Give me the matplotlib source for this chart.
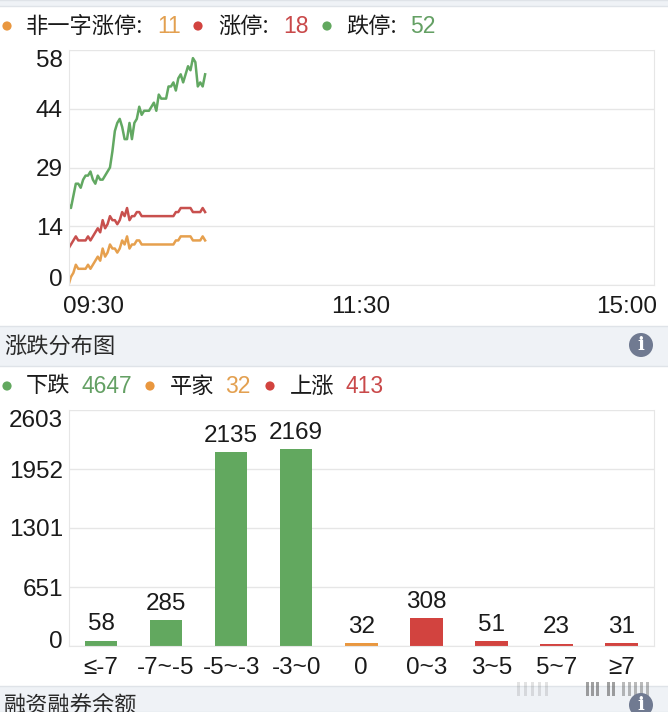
import matplotlib
matplotlib.use("Agg")
import matplotlib.pyplot as plt
from matplotlib.patches import Rectangle, Circle
from matplotlib.transforms import ScaledTranslation

W, H = 668, 712
CJK = ['Noto Sans CJK SC', 'DejaVu Sans']
LAT = ['Liberation Sans', 'DejaVu Sans']
GREEN, RED, ORANGE = '#62a85f', '#d2433f', '#e9973f'
LINE_RED = '#c8504e'; LINE_ORANGE = '#e6a04e'; LINE_GREEN = '#62a862'
GRID = '#e6e6e6'; BAND = '#eff2f6'; BORDER = '#dfe3e8'; INK = '#1a1a1a'

# line chart
zt_free = [0,2,3,5,4,4,4,4,5,4,5,6,7,6,9,7,8,10,9,9,8,9,11,10,12,9,10,10,11,11,
           10,10,10,10,10,10,10,10,10,10,10,10,10,10,11,11,12,12,12,12,12,11,11,11,11,12,11]
zt = [9,10,11,12,11,11,11,11,12,11,12,13,14,13,16,14,15,17,16,16,15,16,18,17,19,16,17,17,18,18,
      17,17,17,17,17,17,17,17,17,17,17,17,17,17,18,18,19,19,19,19,19,18,18,18,18,19,18]
dt = [20,19,22,25,25,24,26,27,27,28,26,25,27,26,26,27,28,29,33,38,40,41,39,36,36,40,36,40,41,44,
      42,43,43,43,44,45,43,47,46,46,46,49,49,50,48,51,52,50,52,54,53,56,55,49,50,49,52]
line_yticks = [0, 14.5, 29, 43.5, 58]
line_ylabels = ['0', '14', '29', '44', '58']
line_xticks = [0, 120, 240]
line_xlabels = ['09:30', '11:30', '15:00']

# bar chart
bar_cats = ['≤-7', '-7~-5', '-5~-3', '-3~0', '0', '0~3', '3~5', '5~7', '≥7']
bar_vals = [58, 285, 2135, 2169, 32, 308, 51, 23, 31]
bar_cols = [GREEN]*4 + [ORANGE] + [RED]*4
bar_yticks = [0, 650.75, 1301.5, 1952.25, 2603]
bar_ylabels = ['0', '651', '1301', '1952', '2603']

fig = plt.figure(figsize=(W/100, H/100), dpi=100, facecolor='white')

def px_axes(l, t, r, b, **kw):
    return fig.add_axes([l/W, 1-b/H, (r-l)/W, (b-t)/H], **kw)

def shift(lab, dx=0, dy=0):
    lab.set_transform(lab.get_transform() + ScaledTranslation(dx/100, dy/100, fig.dpi_scale_trans))

bg = px_axes(0, 0, W, H)
bg.set_xlim(0, W); bg.set_ylim(H, 0); bg.axis('off')
for y0, y1 in [(0, 6), (326, 366), (686, 712)]:
    bg.add_patch(Rectangle((0, y0), W, y1-y0, fc=BAND, ec='none'))
    bg.plot([0, W], [y1, y1], color=BORDER, lw=1)
    bg.plot([0, W], [y0, y0], color=BORDER, lw=1)

def T(x, y, s, color=INK, fam=CJK, size=16, **kw):
    bg.text(x, y, s, color=color, family=fam, fontsize=size, va='center', **kw)

def dot(x, y, c):
    bg.add_patch(Circle((x, y), 4.6, fc=c, ec='none'))

dot(7, 26, ORANGE); T(26, 26, '非一字涨停:'); T(157, 26.5, '11', '#e3a050', LAT, 16.5)
dot(198, 26, RED);  T(218, 26, '涨停:');      T(283, 26.5, '18', '#c9494a', LAT, 16.5)
dot(327, 26, GREEN); T(346, 26, '跌停:');     T(410, 26.5, '52', '#64a064', LAT, 16.5)

T(4, 346, '涨跌分布图', '#2a2a2a')
dot(7, 386, GREEN); T(26, 386, '下跌'); T(81, 386.5, '4647', '#64a064', LAT, 16.5)
dot(150, 386, ORANGE); T(170, 386, '平家'); T(225, 386.5, '32', '#e3a050', LAT, 16.5)
dot(270, 386, RED); T(290, 386, '上涨'); T(346, 386.5, '413', '#c9494a', LAT, 16.5)
T(4, 705, '融资融券余额', '#2a2a2a')

for yc in (345, 705):
    bg.add_patch(Circle((641, yc), 12, fc='#707a91', ec='none', zorder=3))
    bg.text(641, yc, 'i', color='white', family=['DejaVu Serif'], fontsize=13,
            fontweight='bold', ha='center', va='center', zorder=4)

# blurred watermark smear at the lower right
for xs, alpha in [(range(517, 548, 7), 0.16), (range(586, 600, 5), 0.55),
                  (range(607, 614, 5), 0.55), (range(622, 652, 6), 0.4)]:
    for xp in xs:
        bg.add_patch(Rectangle((xp, 682), 3, 14, fc='#555555', ec='none', alpha=alpha, zorder=2))

# ---- line chart
ax = px_axes(68.5, 50, 654, 285)
ax.patch.set_alpha(0)
ax.set_xlim(0, 240); ax.set_ylim(0, 58)
x = list(range(len(dt)))
ax.plot(x, zt_free, color=LINE_ORANGE, lw=1.8)
ax.plot(x, zt, color=LINE_RED, lw=1.8)
ax.plot(x, dt, color=LINE_GREEN, lw=1.8)
ax.set_yticks(line_yticks); ax.set_yticklabels(line_ylabels)
ax.set_xticks(line_xticks); ax.set_xticklabels(line_xlabels)
ax.grid(axis='y', color=GRID, lw=1)
ax.set_axisbelow(True)

ax2 = px_axes(68.5, 410, 654, 646)
ax2.patch.set_alpha(0)
ax2.set_xlim(-0.5, 8.5); ax2.set_ylim(0, 2603)
bars = ax2.bar(range(len(bar_vals)), bar_vals, width=0.5, color=bar_cols, zorder=2)
for i, v in enumerate(bar_vals):
    ax2.annotate(str(v), (i, v), xytext=(0, 4), textcoords='offset points', ha='center',
                 va='bottom', fontsize=17.5, family=LAT, color=INK)
ax2.set_yticks(bar_yticks); ax2.set_yticklabels(bar_ylabels)
ax2.set_xticks(range(len(bar_cats))); ax2.set_xticklabels(bar_cats)
ax2.grid(axis='y', color=GRID, lw=1)
ax2.set_axisbelow(True)

for a in (ax, ax2):
    a.spines['top'].set_visible(False)
    for s in ('left', 'bottom', 'right'):
        a.spines[s].set_color(GRID)
    a.tick_params(length=0, labelcolor=INK)
    for lab in a.get_xticklabels() + a.get_yticklabels():
        lab.set_family(LAT); lab.set_fontsize(17.5)
    a.tick_params(axis='y', pad=4)
    a.tick_params(axis='x', pad=8)
    yl = a.get_yticklabels()
    shift(yl[0], 0, 7)
    yl[-1].set_va('top')
xl = ax.get_xticklabels()
xl[0].set_ha('left'); shift(xl[0], -6, 0)
shift(xl[1], -1, 0)
xl[-1].set_ha('right'); shift(xl[-1], 3, 0)

fig.savefig('out.png', dpi=100, facecolor='white')
